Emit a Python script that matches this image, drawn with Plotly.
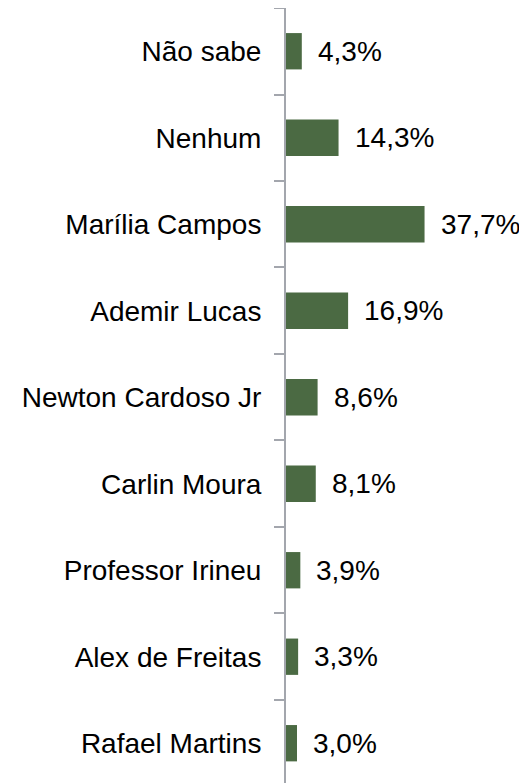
import plotly.graph_objects as go

# Dados (de cima para baixo)
candidatos = ["Não sabe", "Nenhum", "Marília Campos", "Ademir Lucas",
              "Newton Cardoso Jr", "Carlin Moura", "Professor Irineu",
              "Alex de Freitas", "Rafael Martins"]
percentuais = [4.3, 14.3, 37.7, 16.9, 8.6, 8.1, 3.9, 3.3, 3.0]

rotulos = [f"{v:.1f}%".replace(".", ",") for v in percentuais]

FONT = "Liberation Sans, Arial, sans-serif"
GRAY = "#a3a6ad"

fig = go.Figure(go.Bar(
    x=percentuais, y=candidatos, orientation="h",
    marker=dict(color="#4b6a43", line=dict(width=0)),
    hoverinfo="skip",
))

for cand, val, txt in zip(candidatos, percentuais, rotulos):
    fig.add_annotation(x=val, y=cand, text=txt, showarrow=False,
                       xanchor="left", xshift=14,
                       font=dict(family=FONT, size=28, color="#000000"))

fig.update_xaxes(range=[0, 40], visible=False, fixedrange=True)
fig.update_yaxes(type="category", range=[8.46, -0.5], showline=True,
                 linecolor=GRAY, linewidth=2, ticks="outside", tickson="boundaries",
                 ticklen=10, tickwidth=2, tickcolor=GRAY, ticklabelstandoff=17,
                 showgrid=False, zeroline=False,
                 tickfont=dict(family=FONT, size=28, color="#000000"))

# a página tem 8 px de margem no body: figura 8 px menor
fig.update_layout(
    width=519, height=775, bargap=0.58,
    margin=dict(l=278, r=94, t=0, b=0, autoexpand=False),
    plot_bgcolor="white", paper_bgcolor="white",
    showlegend=False,
)

fig.write_html("out.html")
